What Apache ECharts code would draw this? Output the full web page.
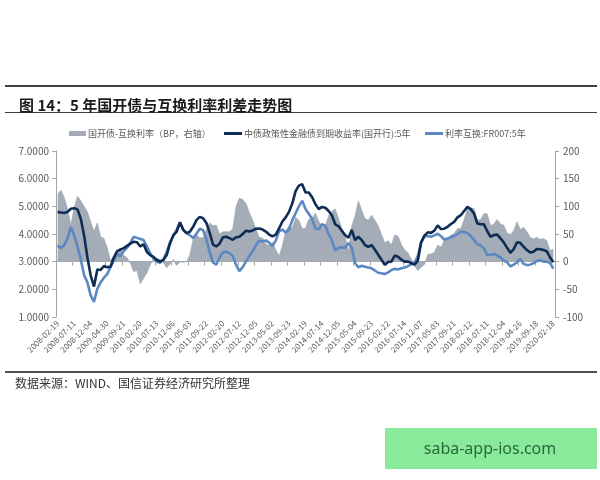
<!DOCTYPE html>
<html>
<head>
<meta charset="utf-8">
<script src="https://cdn.jsdelivr.net/npm/echarts@6/dist/echarts.min.js"></script>
<style>html,body{margin:0;padding:0;background:#fff;}#main{width:600px;height:480px;}</style>
</head>
<body>
<div id="main"></div>
<script>
const tickLabels = ['2008-02-19','2008-07-11','2008-12-04','2009-04-30','2009-09-21','2010-02-20','2010-07-13','2010-12-06','2011-05-03','2011-09-22','2012-02-20','2012-07-12','2012-12-05','2013-05-02','2013-09-23','2014-02-19','2014-07-14','2014-12-05','2015-05-04','2015-09-23','2016-02-22','2016-07-14','2016-12-07','2017-05-03','2017-09-21','2018-02-12','2018-07-11','2018-12-04','2019-04-26','2019-09-18','2020-02-18'];
const stepsPerTick = 5;

const cdbYield = [4.80,4.78,4.76,4.80,4.91,4.93,4.89,4.55,3.95,3.15,2.50,2.10,2.72,2.70,2.84,2.80,2.82,3.15,3.38,3.44,
3.49,3.57,3.65,3.72,3.70,3.55,3.63,3.35,3.24,3.17,3.06,3.00,3.06,3.24,3.66,3.96,4.08,4.42,4.15,4.03,
4.08,4.26,4.50,4.62,4.57,4.40,4.05,3.62,3.55,3.65,3.88,3.90,3.85,3.79,3.88,3.90,4.00,4.12,4.09,4.13,
4.19,4.20,4.16,4.09,3.98,3.91,3.98,4.20,4.45,4.60,4.80,5.10,5.55,5.75,5.80,5.50,5.50,5.33,5.08,4.90,
4.98,4.95,4.83,4.67,4.35,4.28,4.12,3.96,3.86,4.15,3.78,3.90,3.78,3.60,3.54,3.60,3.43,3.25,3.07,2.89,
2.99,3.00,3.22,3.18,3.07,3.00,3.00,2.95,2.89,3.04,3.70,3.94,4.06,4.04,4.12,4.31,4.18,4.19,4.26,4.36,
4.44,4.60,4.68,4.83,4.98,4.90,4.74,4.38,4.35,4.35,4.10,3.90,3.96,3.98,3.84,3.70,3.50,3.32,3.45,3.70,
3.68,3.54,3.42,3.33,3.36,3.46,3.45,3.42,3.38,3.15,2.98];

const swapRate = [3.58,3.49,3.60,3.85,4.25,3.95,3.55,3.08,2.52,2.25,1.78,1.55,2.02,2.25,2.42,2.55,2.80,3.05,3.28,3.20,
3.38,3.50,3.68,3.90,3.86,3.82,3.78,3.55,3.30,3.12,3.00,2.96,3.08,3.35,3.70,3.92,4.15,4.42,4.16,4.03,
3.96,3.85,4.01,4.19,4.14,3.82,3.35,2.97,2.89,3.15,3.34,3.36,3.31,3.20,2.88,2.66,2.80,3.01,3.20,3.38,
3.60,3.76,3.73,3.77,3.69,3.56,3.76,4.10,4.16,4.05,4.15,4.50,4.75,5.00,5.20,4.90,4.73,4.55,4.20,4.17,
4.35,4.30,4.00,3.76,3.40,3.50,3.52,3.50,3.68,3.50,2.95,2.80,2.85,2.82,2.79,2.76,2.68,2.60,2.58,2.55,
2.61,2.70,2.74,2.72,2.76,2.79,2.84,2.90,2.97,3.20,3.70,3.92,3.93,3.90,3.95,4.01,3.92,3.80,3.84,3.88,
3.93,4.00,4.08,4.07,4.03,3.93,3.78,3.63,3.59,3.48,3.24,3.25,3.28,3.22,3.16,3.04,2.98,2.83,2.89,2.98,
3.10,2.92,2.88,2.89,2.95,3.02,3.05,3.00,3.00,2.95,2.75];

const spreadBP = [122,129,116,95,66,98,118,110,100,90,72,55,70,45,42,25,2,10,10,24,
11,7,-3,-18,-16,-40,-30,-20,-6,5,6,4,-2,-11,-4,4,-7,0,-1,0,
12,41,49,43,43,58,70,65,66,50,54,54,54,59,100,115,112,105,89,75,
59,44,43,32,29,35,22,10,29,55,65,60,80,75,60,60,77,78,88,73,
63,65,83,91,95,78,60,46,18,65,83,110,93,78,75,84,75,65,49,34,
38,30,48,46,31,21,16,5,-8,-16,-10,-5,13,14,17,30,26,39,42,48,
51,60,60,76,95,97,96,75,76,87,86,65,68,76,68,66,52,49,56,72,
58,62,54,44,41,44,40,42,38,20,23];

const categories = cdbYield.map((_, i) => String(i));

const nameSpread = '国开债-互换利率（BP，右轴）';
const nameCdb = '中债政策性金融债到期收益率(国开行):5年';
const nameSwap = '利率互换:FR007:5年';

const chart = echarts.init(document.getElementById('main'), null, {renderer: 'canvas'});
const axisLineStyle = {color: '#a6a6a6', width: 1};
const labelColor = '#595959';
const cjk = '"Noto Sans CJK SC", "Noto Sans", sans-serif';
const grayFill = '#a3acb7';

chart.setOption({
  backgroundColor: '#ffffff',
  animation: false,
  textStyle: {fontFamily: cjk},
  title: {
    text: '图 14：5 年国开债与互换利率利差走势图',
    left: 14, top: 93,
    textStyle: {fontSize: 15, fontWeight: 'bold', color: '#1a1a1a', fontFamily: cjk}
  },
  legend: [
    {data: [nameSpread], left: 64, top: 124, icon: 'rect', itemWidth: 17, itemHeight: 5,
     itemStyle: {color: grayFill},
     textStyle: {fontSize: 9, color: labelColor, padding: [0,0,0,-3]}},
    {data: [nameCdb], left: 219, top: 124, icon: 'rect', itemWidth: 18, itemHeight: 3,
     textStyle: {fontSize: 9, color: labelColor, padding: [0,0,0,-3]}},
    {data: [nameSwap], left: 420, top: 124, icon: 'rect', itemWidth: 18, itemHeight: 3,
     textStyle: {fontSize: 9, color: labelColor, padding: [0,0,0,-3]}}
  ],
  grid: {left: 56, right: 45, top: 151, bottom: 163, containLabel: false},
  xAxis: [
    {
      type: 'category', data: categories, boundaryGap: true, position: 'bottom',
      axisLine: {show: false}, axisTick: {show: false},
      axisLabel: {
        interval: stepsPerTick - 1, rotate: 45, fontSize: 8, color: labelColor, margin: 5,
        formatter: (v, idx) => tickLabels[idx / stepsPerTick] || ''
      }
    },
    {
      type: 'category', data: categories, boundaryGap: true, position: 'bottom',
      axisLine: {show: true, onZero: true, onZeroAxisIndex: 1, lineStyle: axisLineStyle},
      axisTick: {show: true, interval: stepsPerTick - 1, length: 4, lineStyle: axisLineStyle},
      axisLabel: {show: false}
    }
  ],
  yAxis: [
    {
      type: 'value', min: 1, max: 7, interval: 1, position: 'left',
      axisLine: {show: true, lineStyle: axisLineStyle},
      axisTick: {show: true, length: 4, lineStyle: axisLineStyle},
      splitLine: {show: false},
      axisLabel: {fontSize: 10, color: labelColor, margin: 7, formatter: v => v.toFixed(4)}
    },
    {
      type: 'value', min: -100, max: 200, interval: 50, position: 'right',
      axisLine: {show: true, lineStyle: axisLineStyle},
      axisTick: {show: true, length: 4, lineStyle: axisLineStyle},
      splitLine: {show: false},
      axisLabel: {fontSize: 10, color: labelColor, margin: 8}
    }
  ],
  series: [
    {
      name: nameSpread, type: 'line', xAxisIndex: 0, yAxisIndex: 1, data: spreadBP,
      symbol: 'none', showSymbol: false, lineStyle: {width: 0.6, color: '#98a2ae'},
      areaStyle: {color: grayFill, opacity: 1, origin: 'auto'},
      itemStyle: {color: grayFill}, z: 1
    },
    {
      name: nameCdb, type: 'line', xAxisIndex: 0, yAxisIndex: 0, data: cdbYield,
      symbol: 'none', showSymbol: false, lineStyle: {color: '#0f2c54', width: 2.6},
      itemStyle: {color: '#0f2c54'}, z: 4
    },
    {
      name: nameSwap, type: 'line', xAxisIndex: 0, yAxisIndex: 0, data: swapRate,
      symbol: 'none', showSymbol: false, lineStyle: {color: '#5b87c2', width: 2.6},
      itemStyle: {color: '#5b87c2'}, z: 3
    }
  ],
  graphic: [
    {type: 'rect', shape: {x: 5, y: 85, width: 592, height: 2}, style: {fill: '#404040'}},
    {type: 'rect', shape: {x: 5, y: 112, width: 592, height: 1}, style: {fill: '#404040'}},
    {type: 'rect', shape: {x: 5, y: 371, width: 592, height: 2}, style: {fill: '#505050'}},
    {type: 'text', left: 15, top: 377,
     style: {text: '数据来源：WIND、国信证券经济研究所整理', fontSize: 12, fill: '#333333', fontFamily: cjk}},
    {type: 'rect', shape: {x: 385, y: 428, width: 212, height: 41}, style: {fill: '#88ea9a'}},
    {type: 'text', x: 490, y: 449,
     style: {text: 'saba-app-ios.com', fontSize: 16, fill: '#2a6a3a', fontFamily: '"Noto Sans", sans-serif',
             align: 'center', verticalAlign: 'middle'}}
  ]
});
</script>
</body>
</html>
